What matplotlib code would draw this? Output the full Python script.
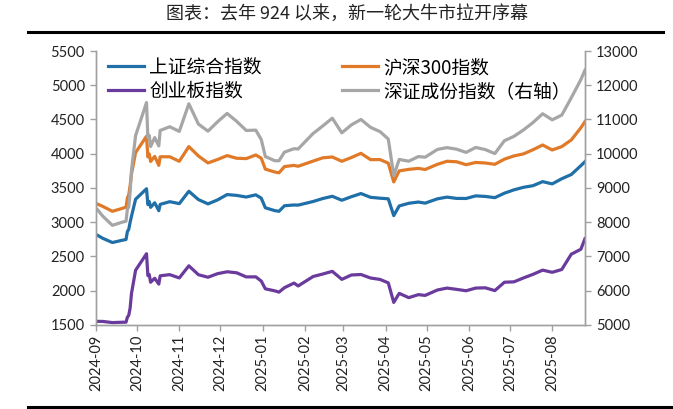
import matplotlib
matplotlib.use("Agg")
import matplotlib.pyplot as plt
import matplotlib.dates as mdates
from matplotlib.lines import Line2D
import pandas as pd

plt.rcParams['font.family'] = ['Lato', 'DejaVu Sans']
CJK = ['Noto Sans CJK SC', 'DejaVu Sans']

# dates of the sampled closes
dates = pd.to_datetime([
    "2024-09-02", "2024-09-06", "2024-09-13", "2024-09-20", "2024-09-23", "2024-09-24",
    "2024-09-25", "2024-09-26", "2024-09-27", "2024-09-30", "2024-10-08", "2024-10-09",
    "2024-10-10", "2024-10-11", "2024-10-14", "2024-10-17", "2024-10-18", "2024-10-25",
    "2024-11-01", "2024-11-08", "2024-11-15", "2024-11-22", "2024-11-29", "2024-12-06",
    "2024-12-13", "2024-12-20", "2024-12-27", "2024-12-31", "2025-01-03", "2025-01-10",
    "2025-01-13", "2025-01-17", "2025-01-24", "2025-01-27", "2025-02-07", "2025-02-14",
    "2025-02-21", "2025-02-28", "2025-03-07", "2025-03-14", "2025-03-21", "2025-03-28",
    "2025-04-03", "2025-04-07", "2025-04-11", "2025-04-18", "2025-04-25", "2025-04-30",
    "2025-05-09", "2025-05-16", "2025-05-23", "2025-05-30", "2025-06-06", "2025-06-13",
    "2025-06-20", "2025-06-27", "2025-07-04", "2025-07-11", "2025-07-18", "2025-07-25",
    "2025-08-01", "2025-08-08", "2025-08-15", "2025-08-22", "2025-08-25",
])

shanghai = [
    2811, 2765, 2704, 2736, 2748, 2863, 2897, 3000, 3087, 3336, 3489, 3258,
    3301, 3217, 3284, 3169, 3261, 3300, 3272, 3452, 3331, 3268, 3326, 3404,
    3392, 3368, 3400, 3352, 3211, 3169, 3160, 3241, 3252, 3250, 3303, 3346,
    3379, 3321, 3373, 3419, 3364, 3351, 3342, 3097, 3238, 3277, 3295, 3279,
    3342, 3367, 3348, 3347, 3385, 3377, 3359, 3424, 3473, 3510, 3534, 3593,
    3560, 3635, 3697, 3826, 3884,
]

hs300 = [
    3266, 3231, 3160, 3201, 3221, 3355, 3400, 3536, 3703, 4017, 4256, 3955,
    3997, 3887, 3961, 3831, 3956, 3956, 3890, 4104, 3968, 3866, 3916, 3973,
    3934, 3929, 3982, 3935, 3775, 3733, 3722, 3813, 3830, 3817, 3893, 3940,
    3953, 3890, 3945, 4006, 3914, 3915, 3862, 3589, 3750, 3772, 3786, 3770,
    3846, 3890, 3883, 3840, 3873, 3865, 3846, 3921, 3968, 3998, 4059, 4128,
    4055, 4104, 4202, 4379, 4469,
]

chinext = [
    1553, 1552, 1535, 1540, 1541, 1613, 1643, 1746, 1960, 2299, 2540, 2220,
    2237, 2124, 2182, 2097, 2218, 2235, 2187, 2364, 2234, 2197, 2249, 2277,
    2262, 2202, 2203, 2141, 2028, 1998, 1980, 2045, 2112, 2070, 2208, 2244,
    2283, 2166, 2230, 2237, 2186, 2165, 2115, 1830, 1962, 1899, 1943, 1932,
    2011, 2039, 2020, 2000, 2039, 2043, 2002, 2124, 2130, 2187, 2240, 2301,
    2269, 2310, 2534, 2606, 2760,
]

szcomp = [
    8373, 8177, 7910, 8000, 8030, 8385, 8448, 8880, 9514, 10529, 11495, 10463,
    10535, 10210, 10472, 10228, 10680, 10788, 10653, 11459, 10867, 10660, 10933, 11177,
    10946, 10680, 10689, 10415, 9918, 9795, 9796, 10048, 10147, 10139, 10593, 10810,
    11037, 10611, 10843, 11001, 10771, 10645, 10429, 9364, 9834, 9782, 9917, 9900,
    10126, 10179, 10133, 10040, 10184, 10122, 10005, 10379, 10508, 10696, 10913, 11168,
    10991, 11128, 11635, 12166, 12441,
]

labels = ["上证综合指数", "创业板指数", "沪深300指数", "深证成份指数（右轴）"]

fig = plt.figure(figsize=(6.73, 4.09), dpi=100)
ax = fig.add_axes([0.1426, 0.2054, 0.7266, 0.6699])
ax2 = ax.twinx()

lw = 2.3
l1, = ax.plot(dates, shanghai, color="#1F6FA8", lw=lw)
l3, = ax.plot(dates, hs300, color="#E07A28", lw=lw)
l2, = ax.plot(dates, chinext, color="#6A3A9C", lw=lw)
l4, = ax2.plot(dates, szcomp, color="#A6A6A6", lw=lw)

ax.set_ylim(1500, 5500)
ax.set_yticks(range(1500, 5501, 500))
ax2.set_ylim(5000, 13000)
ax2.set_yticks(range(5000, 13001, 1000))
ax.set_xlim(pd.Timestamp("2024-09-01"), pd.Timestamp("2025-08-25"))
ax.xaxis.set_major_locator(mdates.MonthLocator())
ax.xaxis.set_major_formatter(mdates.DateFormatter("%Y-%m"))

for a in (ax, ax2):
    a.spines["top"].set_visible(False)
    for s in ("left", "right", "bottom"):
        a.spines[s].set_color("#A0A0A0")
        a.spines[s].set_linewidth(1.0)
    a.tick_params(colors="#A0A0A0", labelcolor="#222222", labelsize=10.5,
                  length=4, width=1.0, pad=4)
ax.tick_params(axis="x", labelrotation=90, pad=3)

leg = ax.legend([l1, l2, l3, l4], labels, ncol=2, loc="upper left",
                bbox_to_anchor=(-0.01, 1.04), frameon=False,
                prop={"family": CJK, "size": 13.5}, handlelength=1.9,
                handletextpad=0.3, columnspacing=4.3, labelspacing=0.15)
leg.set_zorder(5)

fig.text(0.515, 0.966, "图表：去年 924 以来，新一轮大牛市拉开序幕",
         ha="center", va="center", family=CJK, size=13, color="#222222")

# horizontal rules above and below the chart
fig.add_artist(Line2D([0.042, 0.985], [0.921, 0.921], color="black", lw=2.2))
fig.add_artist(Line2D([0.042, 1.0], [0.005, 0.005], color="black", lw=2.2))

fig.savefig("out.png", dpi=100)
